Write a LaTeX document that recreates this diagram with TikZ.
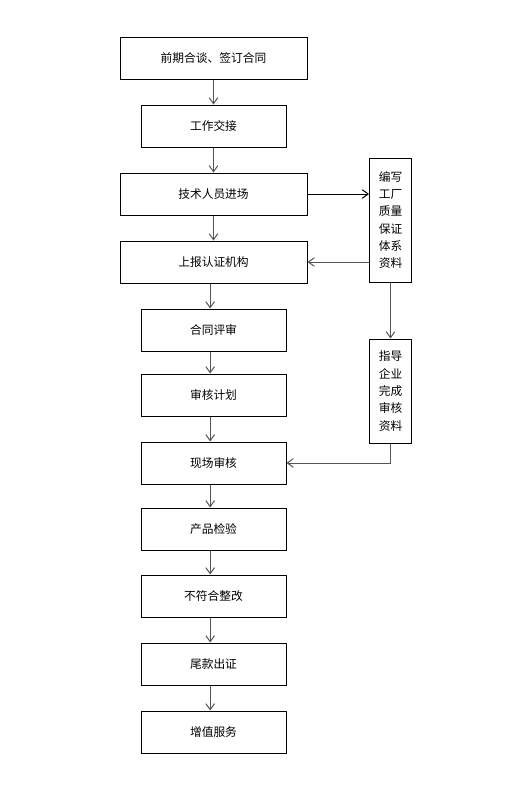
\documentclass[tikz,border=0pt]{standalone}
\usepackage{fontspec}
\usepackage{tikz}
\usetikzlibrary{arrows.meta}
\newfontfamily\cjk{Noto Sans CJK SC}
\definecolor{linegray}{RGB}{85,85,85}

\begin{document}
\begin{tikzpicture}[x=0.75pt, y=-0.75pt,
    box/.style={draw=black, line width=0.75pt, minimum height=31.5pt, inner sep=0pt,
      font=\cjk\fontsize{8.8pt}{10pt}\selectfont},
    sidebox/.style={draw=black, line width=0.75pt, minimum width=31.5pt, inner sep=0pt,
      align=left, font=\cjk\fontsize{8.8pt}{13pt}\selectfont},
    flow/.style={draw=linegray, line width=0.75pt, -{Straight Barb[length=4.5pt,width=6.5pt]}}]
  \useasboundingbox (0,0) rectangle (520,786);
  % main column of steps
  \foreach \txt/\w/\y [count=\n] in {
      前期合谈、签订合同/140.25pt/58,
      工作交接/108.75pt/126,
      技术人员进场/140.25pt/194,
      上报认证机构/140.25pt/262,
      合同评审/108.75pt/330,
      审核计划/108.75pt/395,
      现场审核/108.75pt/463,
      产品检验/108.75pt/529,
      不符合整改/108.75pt/596,
      尾款出证/108.75pt/664,
      增值服务/108.75pt/732} {
    \node[box, minimum width=\w] (b\n) at (213.5,\y) {\txt};
  }
  % side boxes
  \node[sidebox, minimum height=93pt] (doc) at (390.5,220) {编写\\工厂\\质量\\保证\\体系\\资料};
  \node[sidebox, minimum height=78pt] (guide) at (390.5,391) {指导\\企业\\完成\\审核\\资料};
  % arrows down the main column
  \foreach \i/\j in {1/2,2/3,3/4}
    \draw[flow] (b\i) -- (b\j);
  \foreach \i/\j in {4/5,5/6,6/7,7/8,8/9,9/10,10/11}
    \draw[flow] ([xshift=-2.5pt]b\i.south) -- ([xshift=-2.5pt]b\j.north);
  % arrows to and from the side boxes
  \draw[flow, draw=black] (b3.east) -- (doc.west |- b3.east);
  \draw[flow] (doc.west |- b4.east) -- (b4.east);
  \draw[flow] (doc.south) -- (guide.north);
  \draw[flow] (guide.south) |- (b7.east);
\end{tikzpicture}
\end{document}
